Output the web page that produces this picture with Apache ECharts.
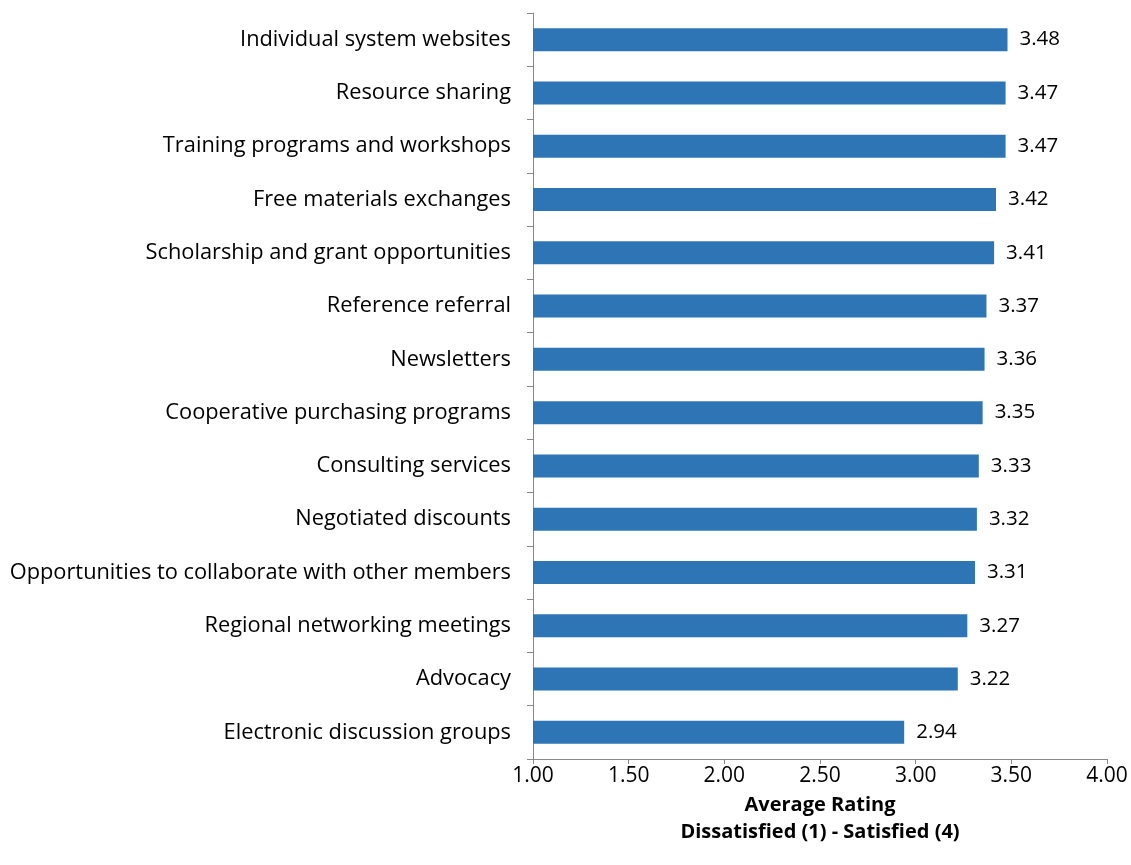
<!DOCTYPE html>
<html><head><meta charset="utf-8">
<script src="https://cdn.jsdelivr.net/npm/echarts@6/dist/echarts.min.js"></script>
<style>html,body{margin:0;padding:0;background:#fff}#c{width:1131px;height:865px}</style>
</head><body><div id="c"></div>
<script>
const categories = [
  "Individual system websites",
  "Resource sharing",
  "Training programs and workshops",
  "Free materials exchanges",
  "Scholarship and grant opportunities",
  "Reference referral",
  "Newsletters",
  "Cooperative purchasing programs",
  "Consulting services",
  "Negotiated discounts",
  "Opportunities to collaborate with other members",
  "Regional networking meetings",
  "Advocacy",
  "Electronic discussion groups"
];
const values = [3.48, 3.47, 3.47, 3.42, 3.41, 3.37, 3.36, 3.35, 3.33, 3.32, 3.31, 3.27, 3.22, 2.94];
const xTitle = "Average Rating\nDissatisfied (1) - Satisfied (4)";

const chart = echarts.init(document.getElementById('c'));
const font = "'Open Sans', sans-serif";
chart.setOption({
  animation: false,
  grid: { left: 533, right: 24, top: 13, bottom: 106, containLabel: false, outerBoundsMode: 'none' },
  xAxis: {
    type: 'value', min: 1, max: 4, interval: 0.5,
    name: xTitle, nameLocation: 'middle', nameGap: 30,
    nameTextStyle: { fontFamily: font, fontSize: 20, fontWeight: 'bold', color: '#000', lineHeight: 27, verticalAlign: 'top' },
    axisLine: { show: true, lineStyle: { color: '#888' } },
    axisTick: { show: true, length: 5, lineStyle: { color: '#888' } },
    axisLabel: { fontFamily: font, fontSize: 21, color: '#000', margin: 7, formatter: v => v.toFixed(2) },
    splitLine: { show: false }
  },
  yAxis: {
    type: 'category', data: categories, inverse: true,
    axisLine: { show: true, lineStyle: { color: '#888' } },
    axisTick: { show: true, length: 6, lineStyle: { color: '#888' } },
    axisLabel: { fontFamily: font, fontSize: 21.8, color: '#000', margin: 22 }
  },
  series: [{
    type: 'bar', data: values, barWidth: 23,
    itemStyle: { color: '#2E75B6' },
    label: { show: true, position: 'right', distance: 12, fontFamily: font, fontSize: 20.5, color: '#000', formatter: p => p.value.toFixed(2) }
  }]
});
</script></body></html>
